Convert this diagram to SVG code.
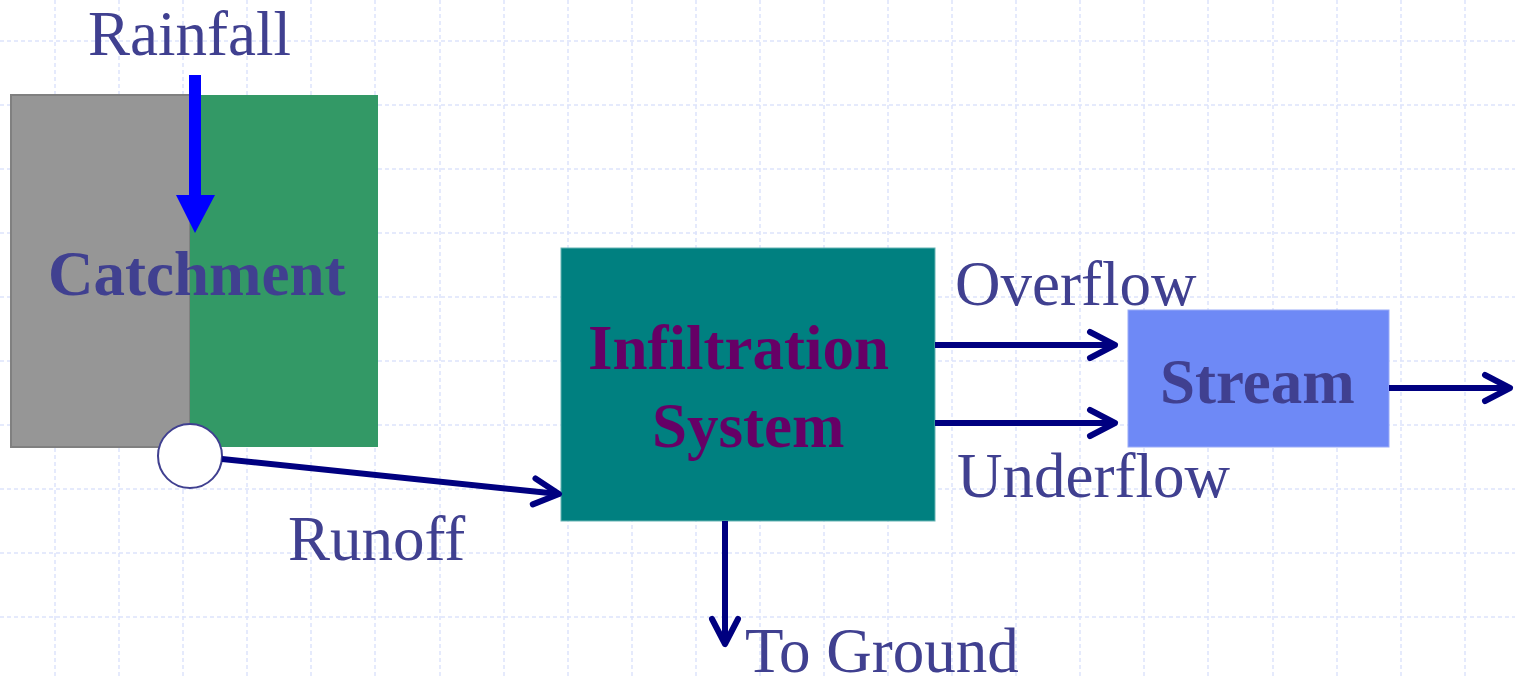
<svg xmlns="http://www.w3.org/2000/svg" width="1515" height="677" viewBox="0 0 1515 677">
<style>
.grid line{stroke:#dde4fb;stroke-width:1.5;stroke-dasharray:4 3}
.lbl{font-family:"Liberation Serif","Times New Roman",serif;font-size:63px;fill:#404090}
.bold{font-weight:bold}
.conn{stroke:#000080;stroke-width:6;fill:none}
</style>
<defs>
<marker id="chev" markerUnits="userSpaceOnUse" viewBox="-32 -18 36 36" refX="0" refY="0" markerWidth="36" markerHeight="36" orient="auto" overflow="visible">
<path d="M-25,-13 L0,0 L-25,13" fill="none" stroke="#000080" stroke-width="6" stroke-linecap="round" stroke-linejoin="round"/>
</marker>
</defs>
<rect width="1515" height="677" fill="#ffffff"/>
<g class="grid">
<line x1="0" y1="41" x2="1515" y2="41"/>
<line x1="0" y1="105" x2="1515" y2="105"/>
<line x1="0" y1="169" x2="1515" y2="169"/>
<line x1="0" y1="233" x2="1515" y2="233"/>
<line x1="0" y1="297" x2="1515" y2="297"/>
<line x1="0" y1="361" x2="1515" y2="361"/>
<line x1="0" y1="425" x2="1515" y2="425"/>
<line x1="0" y1="489" x2="1515" y2="489"/>
<line x1="0" y1="553" x2="1515" y2="553"/>
<line x1="0" y1="617" x2="1515" y2="617"/>
<line x1="55" y1="0" x2="55" y2="677"/>
<line x1="119" y1="0" x2="119" y2="677"/>
<line x1="183" y1="0" x2="183" y2="677"/>
<line x1="247" y1="0" x2="247" y2="677"/>
<line x1="311" y1="0" x2="311" y2="677"/>
<line x1="375" y1="0" x2="375" y2="677"/>
<line x1="440" y1="0" x2="440" y2="677"/>
<line x1="504" y1="0" x2="504" y2="677"/>
<line x1="568" y1="0" x2="568" y2="677"/>
<line x1="632" y1="0" x2="632" y2="677"/>
<line x1="696" y1="0" x2="696" y2="677"/>
<line x1="760" y1="0" x2="760" y2="677"/>
<line x1="824" y1="0" x2="824" y2="677"/>
<line x1="888" y1="0" x2="888" y2="677"/>
<line x1="952" y1="0" x2="952" y2="677"/>
<line x1="1016" y1="0" x2="1016" y2="677"/>
<line x1="1080" y1="0" x2="1080" y2="677"/>
<line x1="1144" y1="0" x2="1144" y2="677"/>
<line x1="1208" y1="0" x2="1208" y2="677"/>
<line x1="1273" y1="0" x2="1273" y2="677"/>
<line x1="1337" y1="0" x2="1337" y2="677"/>
<line x1="1401" y1="0" x2="1401" y2="677"/>
<line x1="1465" y1="0" x2="1465" y2="677"/>
</g>
<g id="catchment">
<rect x="11" y="95" width="179" height="352" fill="#969696" stroke="#808080" stroke-width="2"/>
<rect x="190" y="95" width="188" height="352" fill="#339966"/>
<text class="lbl bold" x="48" y="295">Catchment</text>
</g>
<g id="rainfall">
<text class="lbl" x="88" y="55">Rainfall</text>
</g>
<g id="outlet">
<circle cx="190" cy="456" r="32" fill="#ffffff" stroke="#404090" stroke-width="2"/>
</g>
<g id="infiltration">
<rect x="561" y="248" width="374" height="273" fill="#008080" stroke="#66b3b3" stroke-width="1"/>
<text class="lbl bold" x="588" y="369" style="fill:#660066">Infiltration</text>
<text class="lbl bold" x="652" y="447" style="fill:#660066">System</text>
</g>
<g id="stream">
<rect x="1128" y="310" width="261" height="137" fill="#6e89f6" stroke="#9aabf8" stroke-width="1"/>
<text class="lbl bold" x="1160" y="403">Stream</text>
</g>
<g id="connectors">
<polygon points="189,75 201,75 201,195 215,195 195,233 176,195 189,195" fill="#0000ff"/>
<line class="conn" x1="222" y1="459" x2="559" y2="494" marker-end="url(#chev)"/>
<line class="conn" x1="935" y1="345" x2="1115" y2="345" marker-end="url(#chev)"/>
<line class="conn" x1="935" y1="423" x2="1115" y2="423" marker-end="url(#chev)"/>
<line class="conn" x1="1389" y1="388" x2="1510" y2="388" marker-end="url(#chev)"/>
<line class="conn" x1="725" y1="521" x2="725" y2="644" marker-end="url(#chev)"/>
</g>
<g id="labels">
<text class="lbl" x="288" y="560">Runoff</text>
<text class="lbl" x="955" y="305">Overflow</text>
<text class="lbl" x="957" y="497">Underflow</text>
<text class="lbl" x="745" y="672">To Ground</text>
</g>
</svg>
